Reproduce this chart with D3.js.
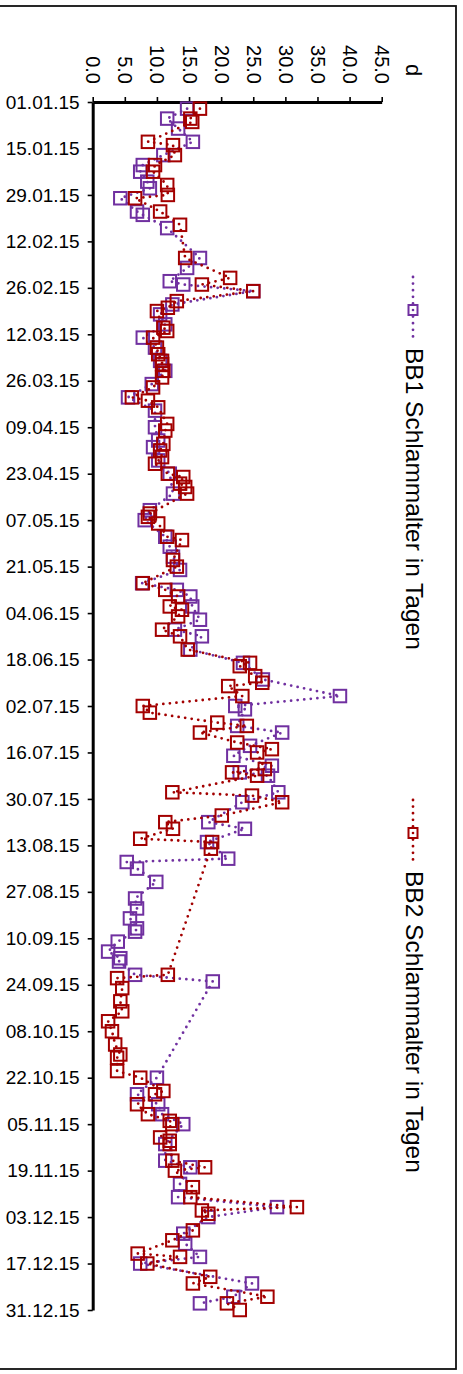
<!DOCTYPE html>
<html>
<head>
<meta charset="utf-8">
<script src="https://cdn.jsdelivr.net/npm/d3@7"></script>
<style>
  body { margin: 0; background: #fff; }
  svg { display: block; }
</style>
</head>
<body>
<div id="chart"></div>
<script>
// tick labels
const dateTicks = ['01.01.15', '15.01.15', '29.01.15', '12.02.15', '26.02.15', '12.03.15', '26.03.15',
  '09.04.15', '23.04.15', '07.05.15', '21.05.15', '04.06.15', '18.06.15', '02.07.15', '16.07.15',
  '30.07.15', '13.08.15', '27.08.15', '10.09.15', '24.09.15', '08.10.15', '22.10.15', '05.11.15',
  '19.11.15', '03.12.15', '17.12.15', '31.12.15'];
const valueTicks = [0, 5, 10, 15, 20, 25, 30, 35, 40, 45];
const unitLabel = 'd';

// series: day of year (0 = 01.01.15) and sludge age in days
const bb1Days = [2, 5, 8, 12, 16, 19, 21, 24, 26, 29, 33, 34, 38, 47, 50, 54, 55, 57, 61, 64,
  67, 71, 74, 78, 81, 85, 89, 93, 98, 102, 104, 108, 112, 118, 123, 126, 131, 134, 137, 141,
  145, 147, 149, 152, 156, 159, 161, 165, 169, 174, 179, 182, 183, 188, 190, 194, 197, 200, 202, 203,
  208, 211, 217, 219, 223, 228, 229, 231, 235, 240, 243, 246, 249, 250, 253, 256, 258, 259, 263, 265,
  294, 299, 302, 305, 308, 314, 319, 321, 326, 330, 333, 336, 341, 344, 348, 350, 356, 360, 362];
const bb1Values = [14.7, 11.6, 13.3, 15.6, 11.0, 7.8, 7.4, 8.5, 8.9, 4.3, 6.9, 7.8, 11.6, 16.7, 14.7, 12.0, 14.1, 25.0, 12.4, 10.5,
  11.3, 7.8, 9.7, 10.5, 11.3, 9.2, 5.5, 9.7, 9.7, 10.2, 9.4, 10.2, 12.0, 12.5, 8.9, 8.1, 11.3, 12.0, 12.5, 13.6,
  7.7, 13.1, 15.2, 15.5, 16.7, 12.8, 17.0, 15.2, 23.4, 26.5, 38.5, 22.2, 23.7, 22.5, 29.5, 24.5, 21.9, 27.9, 22.9, 27.3,
  28.9, 23.3, 18.0, 23.7, 17.8, 21.1, 5.3, 6.9, 9.9, 6.6, 6.9, 5.8, 6.9, 6.6, 3.9, 2.4, 4.3, 4.1, 6.6, 18.7,
  10.0, 6.9, 10.2, 10.8, 14.1, 11.3, 11.3, 15.2, 13.6, 13.3, 28.7, 18.0, 14.1, 14.4, 16.7, 7.4, 24.8, 21.9, 16.7];

const bb2Days = [2, 5, 6, 12, 13, 16, 19, 21, 25, 28, 29, 33, 37, 47, 53, 55, 57, 60, 62, 63,
  68, 69, 71, 74, 76, 78, 79, 81, 83, 86, 89, 90, 92, 97, 99, 103, 105, 107, 109, 112,
  113, 115, 116, 118, 124, 125, 127, 131, 132, 138, 140, 145, 147, 149, 152, 153, 155, 159, 161, 165,
  169, 170, 173, 175, 176, 179, 182, 184, 187, 188, 190, 193, 195, 196, 201, 202, 203, 208, 209, 211,
  215, 217, 219, 222, 223, 225, 263, 264, 267, 271, 274, 277, 280, 284, 287, 288, 292, 294, 298, 299,
  302, 305, 307, 308, 312, 313, 314, 319, 321, 322, 327, 330, 333, 334, 335, 340, 343, 347, 348, 350,
  354, 356, 360, 362, 364];
const bb2Values = [16.7, 15.2, 15.5, 8.6, 12.5, 12.8, 9.7, 9.4, 11.6, 11.7, 6.6, 10.5, 13.6, 14.4, 21.4, 17.0, 25.0, 13.1, 11.7, 10.0,
  11.0, 11.6, 9.4, 10.0, 10.2, 10.8, 10.8, 11.0, 10.8, 9.4, 6.1, 8.6, 10.2, 11.6, 11.3, 11.0, 10.5, 10.8, 9.7, 11.7,
  14.1, 13.6, 14.4, 14.7, 8.9, 8.6, 10.2, 11.6, 13.9, 12.5, 13.1, 7.8, 11.3, 13.3, 12.0, 13.9, 13.3, 10.8, 13.6, 14.8,
  24.5, 22.9, 25.3, 26.4, 21.1, 23.3, 7.8, 8.9, 19.4, 24.0, 16.7, 22.5, 27.9, 25.6, 26.8, 21.7, 25.6, 12.4, 24.8, 29.5,
  20.1, 11.3, 12.5, 7.4, 18.6, 18.4, 11.7, 3.8, 4.6, 4.3, 4.6, 2.4, 3.0, 3.5, 4.3, 3.8, 3.8, 7.4, 11.0, 9.7,
  6.9, 8.6, 12.0, 12.4, 10.5, 12.0, 12.0, 12.4, 17.5, 12.8, 15.6, 15.2, 31.8, 17.0, 18.0, 15.6, 12.4, 7.0, 13.6, 8.5,
  18.3, 15.6, 27.2, 20.9, 22.9];

const seriesNames = ['BB1 Schlammalter in Tagen', 'BB2 Schlammalter in Tagen'];
const seriesColors = ['#7030a0', '#a30000'];

const width = 463;
const height = 1374;
const font = 'Arial, "Liberation Sans", sans-serif';

const parseDate = d3.timeParse('%d.%m.%y');
const start = parseDate(dateTicks[0]);

// the chart is turned on its side: dates run down, values run right
const y = d3.scaleTime()
  .domain([start, parseDate(dateTicks[dateTicks.length - 1])])
  .range([102, 1310]);
const x = d3.scaleLinear().domain([0, 45]).range([92.7, 381.7]);

const toPoints = (days, values) =>
  days.map((d, i) => ({ date: d3.timeDay.offset(start, d), v: values[i] }));
const series = [toPoints(bb1Days, bb1Values), toPoints(bb2Days, bb2Values)];

const svg = d3.select('#chart').append('svg')
  .attr('width', width)
  .attr('height', height)
  .style('background', '#fff');

// outer frame
svg.append('rect')
  .attr('x', -2).attr('y', 6)
  .attr('width', 458).attr('height', 1363)
  .attr('fill', 'none')
  .attr('stroke', '#111')
  .attr('stroke-width', 1.8);

// value axis (top)
const xAxis = svg.append('g')
  .attr('transform', 'translate(0,102)')
  .call(d3.axisTop(x).tickValues(valueTicks).tickSize(5).tickSizeOuter(0).tickFormat(d3.format('.1f')));
xAxis.select('.domain').attr('stroke', '#000').attr('stroke-width', 3);
xAxis.selectAll('.tick line').attr('stroke', '#000').attr('stroke-width', 1.6);
xAxis.selectAll('.tick text')
  .attr('x', 0).attr('y', 0)
  .attr('dy', '0.35em')
  .attr('text-anchor', 'end')
  .attr('transform', 'translate(0,-18) rotate(90)')
  .attr('fill', '#000')
  .style('font-family', font)
  .style('font-size', '20px');

// date axis (left)
const yAxis = svg.append('g')
  .attr('transform', 'translate(92.7,0)')
  .call(d3.axisLeft(y).tickValues(dateTicks.map(parseDate)).tickSize(5).tickSizeOuter(0)
    .tickPadding(8).tickFormat(d3.timeFormat('%d.%m.%y')));
yAxis.select('.domain').attr('stroke', '#000').attr('stroke-width', 3);
yAxis.selectAll('.tick line').attr('stroke', '#000').attr('stroke-width', 1.6);
yAxis.selectAll('.tick text')
  .attr('fill', '#000')
  .style('font-family', font)
  .style('font-size', '19px');

// unit label
svg.append('text')
  .attr('transform', 'translate(406,70) rotate(90)')
  .attr('text-anchor', 'middle')
  .style('font-family', font)
  .style('font-size', '22px')
  .text(unitLabel);

const line = d3.line()
  .x((d) => x(d.v))
  .y((d) => y(d.date));

const markerSize = 12.5;

series.forEach((data, i) => {
  const g = svg.append('g');
  g.append('path')
    .datum(data)
    .attr('d', line)
    .attr('fill', 'none')
    .attr('stroke', seriesColors[i])
    .attr('stroke-width', 2.8)
    .attr('stroke-linecap', 'round')
    .attr('stroke-dasharray', '0 6.6');
  g.selectAll('rect')
    .data(data)
    .join('rect')
    .attr('x', (d) => x(d.v) - markerSize / 2)
    .attr('y', (d) => y(d.date) - markerSize / 2)
    .attr('width', markerSize)
    .attr('height', markerSize)
    .attr('fill', 'none')
    .attr('stroke', seriesColors[i])
    .attr('stroke-width', 2);
});

// legend, also turned
const legendTop = [277, 800];
legendTop.forEach((top, i) => {
  const g = svg.append('g').attr('transform', `translate(413,${top})`);
  g.append('line')
    .attr('x1', 0).attr('x2', 0)
    .attr('y1', 0).attr('y2', 65)
    .attr('stroke', seriesColors[i])
    .attr('stroke-width', 2.8)
    .attr('stroke-linecap', 'round')
    .attr('stroke-dasharray', '0 6.6');
  g.append('rect')
    .attr('x', -4.5).attr('y', 28)
    .attr('width', 9).attr('height', 10)
    .attr('fill', '#fff')
    .attr('stroke', seriesColors[i])
    .attr('stroke-width', 2);
  g.append('circle')
    .attr('cx', 0).attr('cy', 33)
    .attr('r', 1.3)
    .attr('fill', seriesColors[i]);
  g.append('text')
    .attr('transform', 'translate(-7,71) rotate(90)')
    .style('font-family', font)
    .style('font-size', '24.5px')
    .attr('fill', '#000')
    .text(seriesNames[i]);
});
</script>
</body>
</html>
